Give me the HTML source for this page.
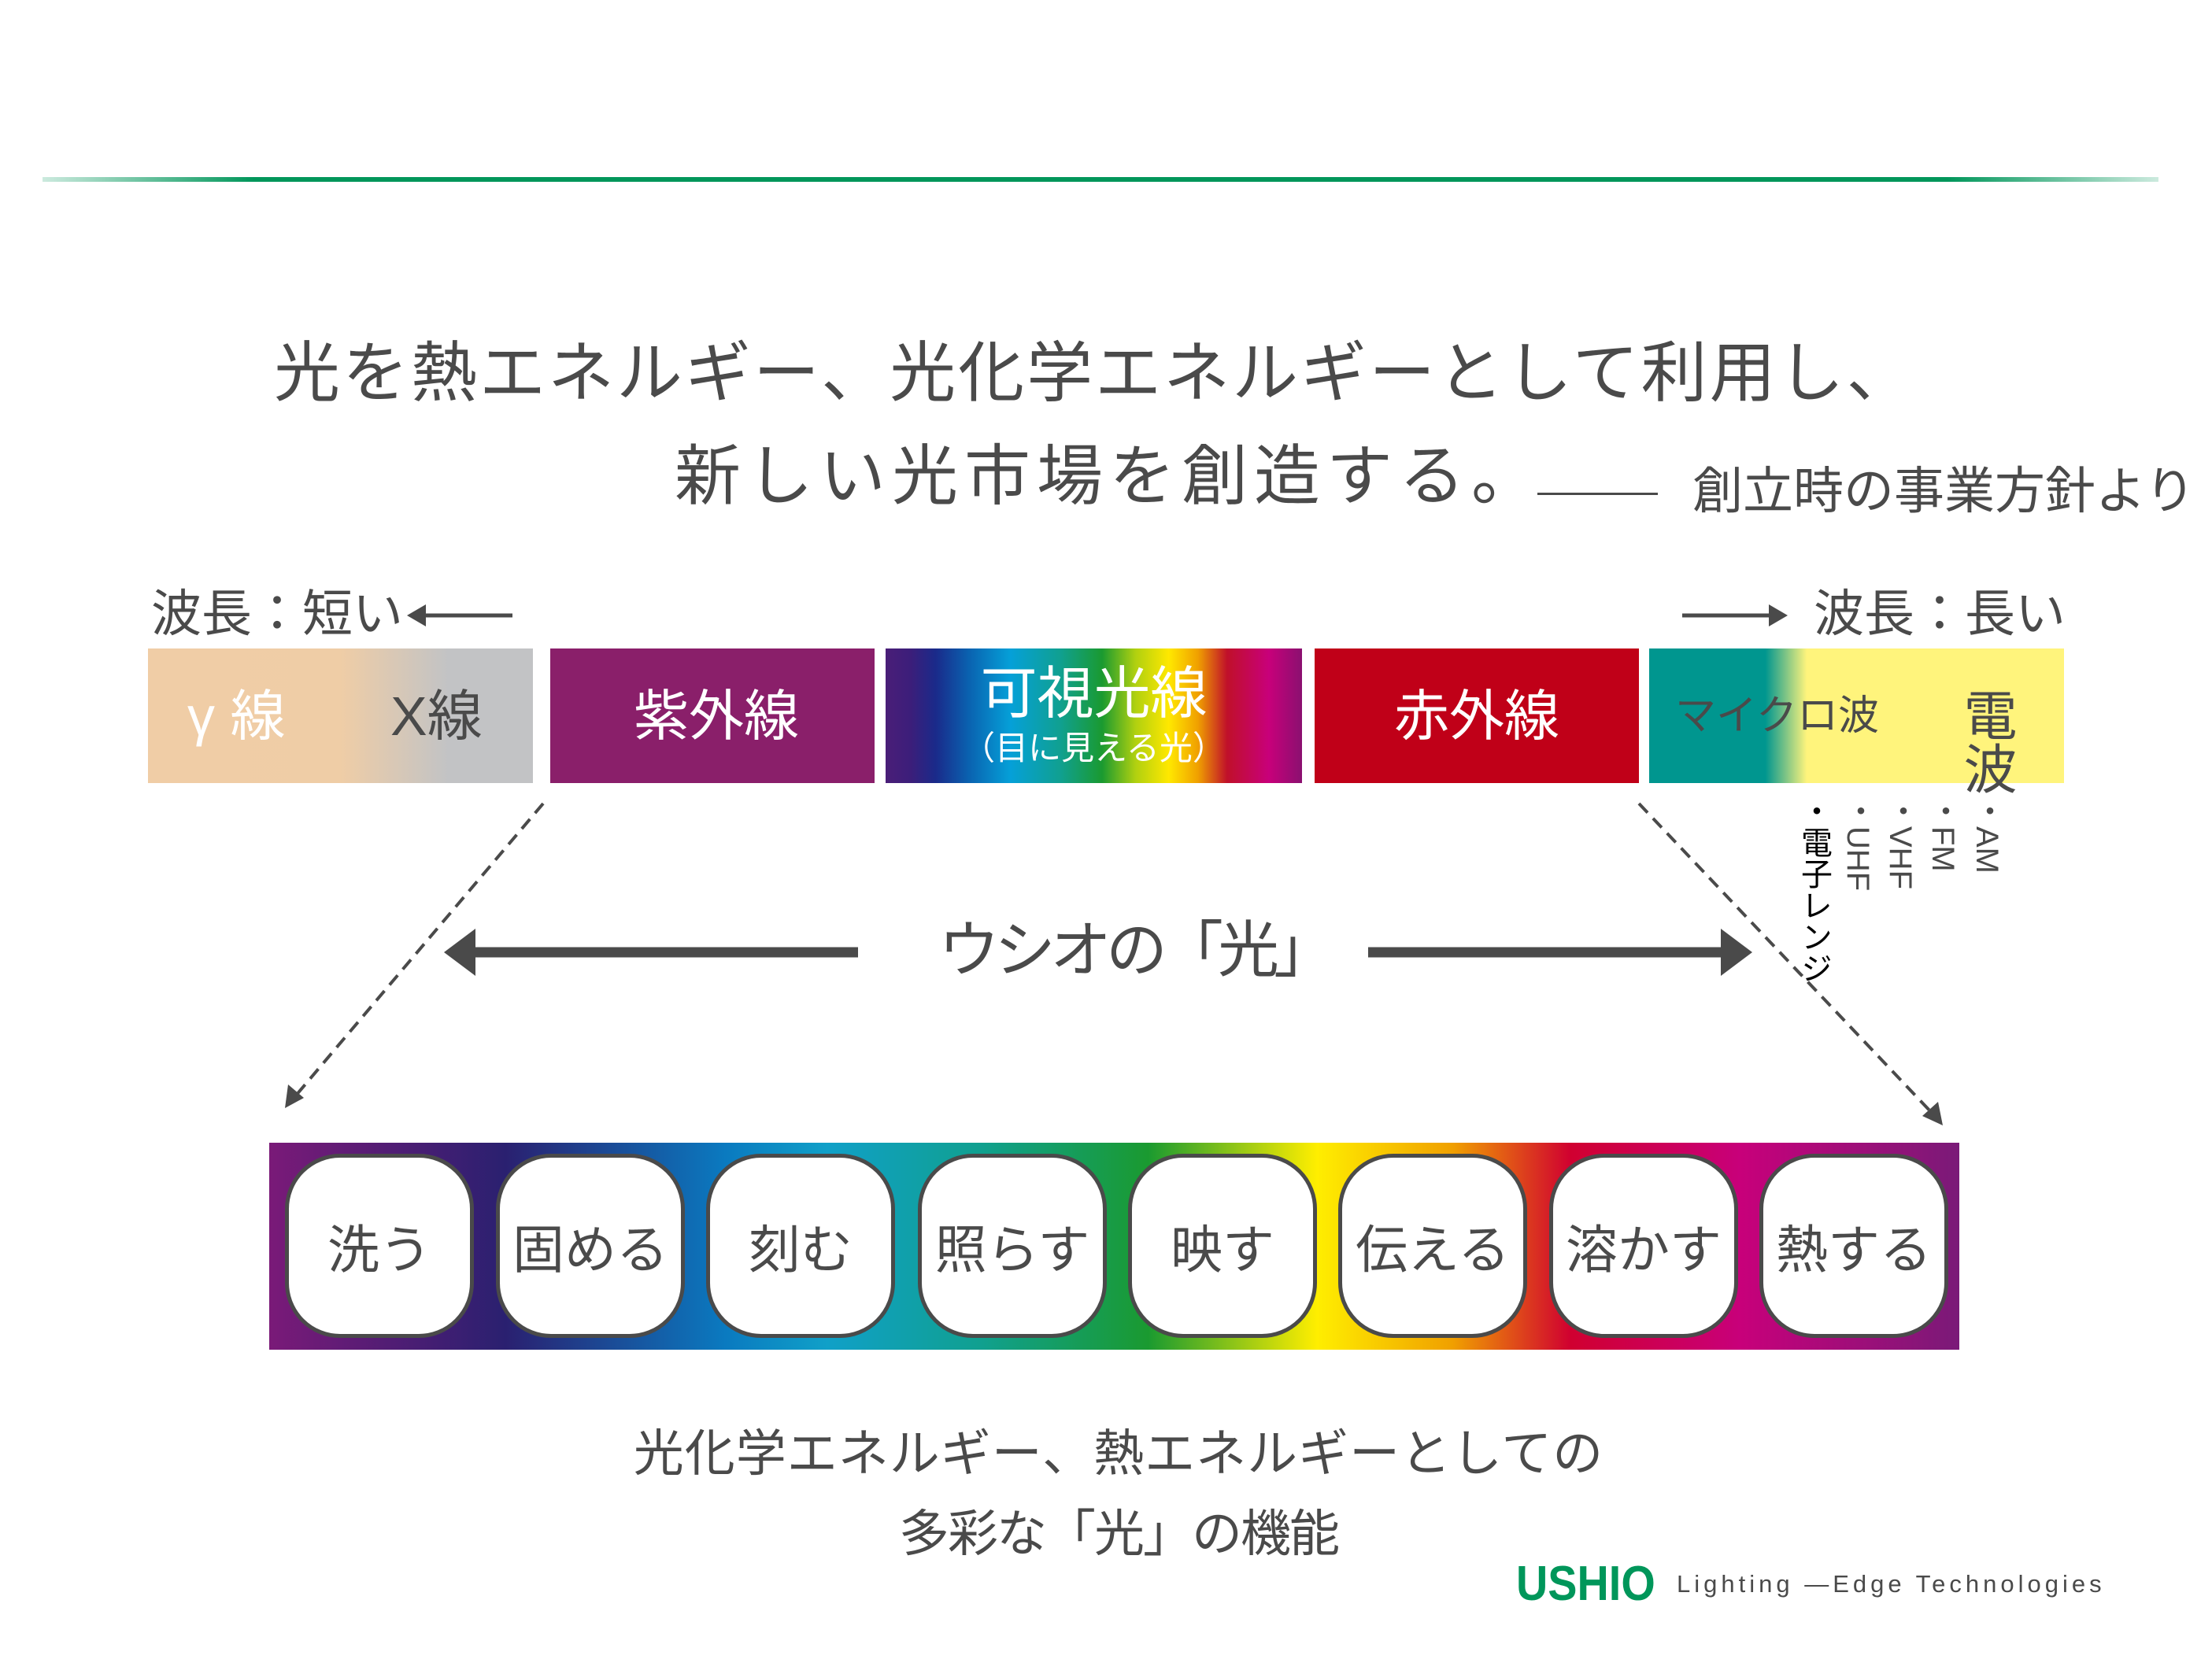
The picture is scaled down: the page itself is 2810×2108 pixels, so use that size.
<!DOCTYPE html>
<html><head><meta charset="utf-8"><style>
body{margin:0;width:2810px;height:2108px;background:#fff;position:relative;overflow:hidden;font-family:"Liberation Sans","Noto Sans CJK JP",sans-serif;color:#4a4a4a}
.a{position:absolute;white-space:nowrap;line-height:1}
.seg{position:absolute;top:824px;height:171px}
.box{position:absolute;top:1466px;width:240px;height:234px;border:5px solid #4a4a4a;border-radius:70px;background:#fff;box-sizing:border-box;display:flex;align-items:center;justify-content:center;font-size:66px;color:#4a4a4a}
.v{position:absolute;writing-mode:vertical-rl;font-size:40px;line-height:1;white-space:nowrap}
</style></head><body>
<div class="a" style="left:54px;top:225px;width:2688px;height:6px;background:linear-gradient(90deg,rgba(0,150,90,0.2),#00965a 10%,#00965a 90%,rgba(0,150,90,0.2))"></div>
<div class="a" style="left:348px;top:432px;font-size:84px;letter-spacing:3px">光を熱エネルギー、光化学エネルギーとして利用し、</div>
<div class="a" style="left:857px;top:563px;font-size:84px;letter-spacing:8px">新しい光市場を創造する。</div>
<div class="a" style="left:1953px;top:626px;width:153px;height:3px;background:#4a4a4a"></div>
<div class="a" style="left:2150px;top:592px;font-size:64px">創立時の事業方針より</div>

<div class="a" style="left:192px;top:748px;font-size:64px">波長：短い</div>
<svg class="a" style="left:515px;top:760px" width="140" height="44"><line x1="20" y1="22" x2="136" y2="22" stroke="#4a4a4a" stroke-width="5"/><polygon points="2,22 26,8 26,36" fill="#4a4a4a"/></svg>
<svg class="a" style="left:2135px;top:760px" width="140" height="44"><line x1="2" y1="22" x2="116" y2="22" stroke="#4a4a4a" stroke-width="5"/><polygon points="136,22 112,8 112,36" fill="#4a4a4a"/></svg>
<div class="a" style="left:2304px;top:748px;font-size:64px">波長：長い</div>

<div class="seg" style="left:188px;width:489px;background:linear-gradient(90deg,#f0cda6 0%,#efcda6 50%,#c2c3c5 78%,#c2c3c5 100%)"></div>
<div class="a" style="left:238px;top:875px;font-size:70px;color:#fff">γ 線</div>
<div class="a" style="left:496px;top:875px;font-size:70px;color:#4a4a4a">X線</div>
<div class="seg" style="left:699px;width:412px;background:#8a1f6a"></div>
<div class="a" style="left:805px;top:875px;font-size:70px;color:#fff">紫外線</div>
<div class="seg" style="left:1125px;width:529px;background:linear-gradient(90deg,#4a1e78 0%,#3c1e7a 6%,#1a2a8a 12%,#0a62b0 20%,#05a0d8 30%,#10a090 42%,#1a9a30 52%,#b0d010 60%,#ffe800 68%,#f0a000 75%,#c0102a 82%,#c8007a 92%,#8a1070 100%)"></div>
<div class="a" style="left:1125px;top:846px;width:529px;text-align:center;font-size:72px;color:#fff">可視光線</div>
<div class="a" style="left:1125px;top:930px;width:529px;text-align:center;font-size:42px;color:#fff">（目に見える光）</div>
<div class="seg" style="left:1670px;width:412px;background:#c00018"></div>
<div class="a" style="left:1670px;top:875px;width:412px;text-align:center;font-size:70px;color:#fff">赤外線</div>
<div class="seg" style="left:2095px;width:527px;background:linear-gradient(90deg,#00968f 0%,#00968f 28%,#fff47c 38%,#fff47c 100%)"></div>
<div class="a" style="left:2128px;top:884px;font-size:52px;color:#4a4a4a">マイクロ波</div>
<div class="v" style="left:2488px;top:874px;font-size:68px;color:#4a4a4a">電波</div>
<div class="v" style="left:2504px;top:1010px;color:#4a4a4a">・AM</div>
<div class="v" style="left:2448px;top:1010px;color:#4a4a4a">・FM</div>
<div class="v" style="left:2394px;top:1010px;color:#4a4a4a">・VHF</div>
<div class="v" style="left:2340px;top:1010px;color:#4a4a4a">・UHF</div>
<div class="v" style="left:2284px;top:1010px;color:#000">・電子レンジ</div>

<svg class="a" style="left:0;top:0" width="2810" height="2108">
<line x1="690" y1="1021" x2="375" y2="1393" stroke="#4a4a4a" stroke-width="4" stroke-dasharray="16,10"/>
<polygon points="362,1408 366,1378 386,1395" fill="#4a4a4a"/>
<line x1="2082" y1="1021" x2="2455" y2="1415" stroke="#4a4a4a" stroke-width="4" stroke-dasharray="16,10"/>
<polygon points="2468,1430 2442,1418 2462,1400" fill="#4a4a4a"/>
<line x1="600" y1="1210" x2="1090" y2="1210" stroke="#4a4a4a" stroke-width="13"/>
<polygon points="564,1210 604,1180 604,1240" fill="#4a4a4a"/>
<line x1="1738" y1="1210" x2="2190" y2="1210" stroke="#4a4a4a" stroke-width="13"/>
<polygon points="2226,1210 2186,1180 2186,1240" fill="#4a4a4a"/>
</svg>
<div class="a" style="left:1192px;top:1168px;font-size:78px;letter-spacing:-7px">ウシオの「光」</div>

<div class="a" style="left:342px;top:1452px;width:2147px;height:263px;background:linear-gradient(90deg,#7a1a78 0%,#2a2070 14%,#0a7ac0 27%,#10a0c8 33%,#10a090 42%,#1a9a30 52%,#ffee00 62%,#f0a000 70%,#d00030 77%,#c8007a 87%,#7a1a78 100%)"></div>
<div class="box" style="left:362px">洗う</div>
<div class="box" style="left:630px">固める</div>
<div class="box" style="left:897px">刻む</div>
<div class="box" style="left:1166px">照らす</div>
<div class="box" style="left:1433px">映す</div>
<div class="box" style="left:1700px">伝える</div>
<div class="box" style="left:1968px">溶かす</div>
<div class="box" style="left:2235px">熱する</div>

<div class="a" style="left:0;top:1815px;width:2842px;text-align:center;font-size:64px;letter-spacing:1px">光化学エネルギー、熱エネルギーとしての</div>
<div class="a" style="left:0;top:1917px;width:2842px;text-align:center;font-size:64px;letter-spacing:-2px">多彩な「光」の機能</div>
<div class="a" style="left:1926px;top:1982px;font-size:62px;font-weight:bold;color:#00965a;transform:scaleX(0.9);transform-origin:left">USHIO</div>
<div class="a" style="left:2130px;top:1997px;font-size:31px;letter-spacing:5px;color:#4a4a4a">Lighting —Edge Technologies</div>
</body></html>
